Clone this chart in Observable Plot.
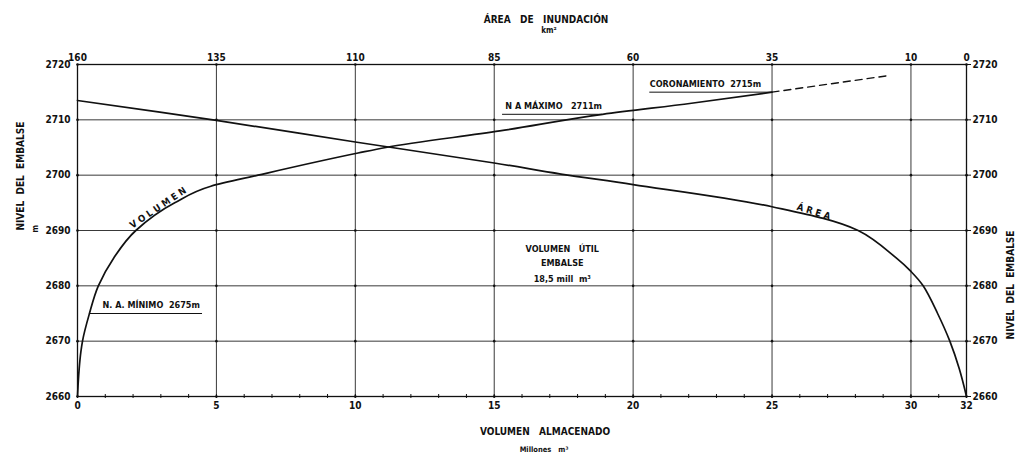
<!DOCTYPE html>
<html><head><meta charset="utf-8">
<script src="https://cdn.jsdelivr.net/npm/d3@7"></script>
<script src="https://cdn.jsdelivr.net/npm/@observablehq/plot@0.6"></script>
<style>html,body{margin:0;padding:0;background:#fff}</style>
</head><body><div id="chart"></div>
<script>
// Bottom axis: stored volume (millions m3); top axis: flooded area (km2)
const volumeTicks = [0, 5, 10, 15, 20, 25, 30, 32];
const areaTickLabels = [160, 135, 110, 85, 60, 35, 10, 0];
const minorVolumeTicks = [0,1,2,3,4,5,6,7,8,9,10,11,12,13,14,15,16,17,18,19,20,21,22,23,24,25,26,27,28,29,30,31,32];
const levelTicks = [2660, 2670, 2680, 2690, 2700, 2710, 2720];

// Volume curve (level m -> volume Mm3)
const volLevels = [2660, 2662, 2665, 2668, 2670, 2675, 2680, 2685, 2690, 2695, 2698, 2700, 2704, 2705, 2708, 2711, 2713, 2715];
const volValues = [0, 0.02, 0.06, 0.12, 0.18, 0.43, 0.75, 1.3, 2.1, 3.5, 4.8, 6.5, 10.1, 11.1, 15.2, 18.9, 22.1, 25];
// Dashed extension above crest
const extLevels = [2715, 2718];
const extValues = [25, 29.2];

// Area curve (level m -> area km2)
const areaLevels = [2660, 2665, 2670, 2675, 2680, 2682.6, 2685, 2690, 2694.3, 2698.3, 2700.2, 2702.2, 2706.0, 2709.9, 2713.5];
const areaValues = [0, 1.3, 3, 5.2, 7.8, 10, 12.6, 19.5, 35, 60, 73, 85, 110, 135, 160];

// Annotation texts
const refLabels = ["N. A. MÍNIMO\u00a0\u00a02675m", "N A MÁXIMO\u00a0\u00a0\u00a02711m", "CORONAMIENTO\u00a0\u00a02715m"];
const refLevels = [2675, 2711, 2715];
const usefulLines = ["VOLUMEN\u00a0\u00a0\u00a0ÚTIL", "EMBALSE", "18,5\u00a0mill\u00a0\u00a0m³"];

const areaToX = a => (160 - a) / 5; // area axis is linear over the volume axis
const font = "'DejaVu Sans Condensed','Liberation Sans Narrow','DejaVu Sans',sans-serif";
const ink = "#111";

const volData = volLevels.map((l, i) => ({level: l, vol: volValues[i]}));
const extData = extLevels.map((l, i) => ({level: l, vol: extValues[i]}));
const areaData = areaLevels.map((l, i) => ({level: l, area: areaValues[i]}));
const refData = [
  {label: refLabels[0], level: refLevels[0], tx: 0.9, x1: 0.43, x2: 4.5},
  {label: refLabels[1], level: refLevels[1], tx: 15.4, x1: 15.3, x2: 18.9},
  {label: refLabels[2], level: refLevels[2], tx: 20.6, x1: 20.6, x2: 25}
];
const usefulData = usefulLines.map((t, i) => ({t, level: [2686.7, 2684.1, 2681.3][i]}));
const crossings = volumeTicks.flatMap(v => levelTicks.map(l => ({v, l})));

const plot = Plot.plot({
  width: 1018, height: 456,
  marginLeft: 77, marginRight: 52, marginTop: 64, marginBottom: 60,
  style: {fontFamily: font, fontSize: "10px", color: ink, background: "#fff"},
  x: {domain: [0, 32]},
  y: {domain: [2660, 2720]},
  marks: [
    Plot.ruleX(volumeTicks, {stroke: "#222", strokeWidth: 0.9}),
    Plot.ruleY(levelTicks, {stroke: "#222", strokeWidth: 0.9}),
    Plot.dot(crossings, {x: "v", y: "l", r: 1.3, fill: ink, stroke: null}),
    Plot.frame({stroke: ink, strokeWidth: 1.3}),
    Plot.axisX({anchor: "bottom", ticks: volumeTicks, tickSize: 0, tickPadding: 5, tickFormat: d => String(d), label: null, fontWeight: "bold"}),
    Plot.axisX({anchor: "bottom", ticks: minorVolumeTicks, tickSize: 4, dy: -2, text: null, label: null, stroke: ink}),
    Plot.axisX({anchor: "top", ticks: volumeTicks, tickSize: 0, tickPadding: 4, tickFormat: d => String(areaTickLabels[volumeTicks.indexOf(d)]), label: null, fontWeight: "bold"}),
    Plot.axisY({anchor: "left", ticks: levelTicks, tickSize: 0, tickPadding: 7, tickFormat: d => String(d), label: null, fontWeight: "bold"}),
    Plot.axisY({anchor: "right", ticks: levelTicks, tickSize: 4, tickPadding: 2, tickFormat: d => String(d), label: null, fontWeight: "bold", stroke: ink}),
    // curves
    Plot.line(volData, {x: "vol", y: "level", curve: "monotone-y", stroke: ink, strokeWidth: 1.7}),
    Plot.line(extData, {x: "vol", y: "level", stroke: ink, strokeWidth: 1.4, strokeDasharray: "7,5"}),
    Plot.line(areaData, {x: d => areaToX(d.area), y: "level", curve: "catmull-rom", stroke: ink, strokeWidth: 1.7}),
    // reference levels
    Plot.ruleY(refData, {y: "level", x1: "x1", x2: "x2", stroke: ink, strokeWidth: 1}),
    Plot.text(refData, {x: "tx", y: "level", text: "label", textAnchor: "start", dy: -8, fontSize: 9, fontWeight: "bold"}),
    Plot.text(usefulData, {x: 17.45, y: "level", text: "t", fontSize: 9, fontWeight: "bold"}),
    // curve labels
    Plot.text(["V O L U M E N"], {x: 2.9, y: 2694.1, rotate: -34, fontSize: 9.5, fontWeight: "bold"}),
    Plot.text(["Á R E A"], {x: 26.5, y: 2693.4, rotate: 17, fontSize: 9.5, fontWeight: "bold"}),
    // axis titles
    Plot.text(["ÁREA\u00a0\u00a0\u00a0DE\u00a0\u00a0\u00a0INUNDACIÓN"], {frameAnchor: "top", dx: 24, dy: -49, fontSize: 10, fontWeight: "bold"}),
    Plot.text(["km²"], {frameAnchor: "top", dx: 27, dy: -37, fontSize: 8, fontWeight: "bold"}),
    Plot.text(["VOLUMEN\u00a0\u00a0\u00a0ALMACENADO"], {frameAnchor: "bottom", dx: 23, dy: 38, fontSize: 10, fontWeight: "bold"}),
    Plot.text(["Millones\u00a0\u00a0\u00a0m³"], {frameAnchor: "bottom", dx: 22, dy: 55, fontSize: 7.5, fontWeight: "bold"}),
    Plot.text(["NIVEL\u00a0\u00a0DEL\u00a0\u00a0EMBALSE"], {frameAnchor: "left", dx: -57, rotate: -90, fontSize: 10, fontWeight: "bold"}),
    Plot.text(["m"], {frameAnchor: "left", dx: -42, dy: 2, rotate: -90, fontSize: 8, fontWeight: "bold"}),
    Plot.text(["NIVEL\u00a0\u00a0DEL\u00a0\u00a0EMBALSE"], {frameAnchor: "right", dx: 44, rotate: -90, fontSize: 10, fontWeight: "bold"})
  ]
});
document.getElementById("chart").appendChild(plot);
</script>
</body></html>
